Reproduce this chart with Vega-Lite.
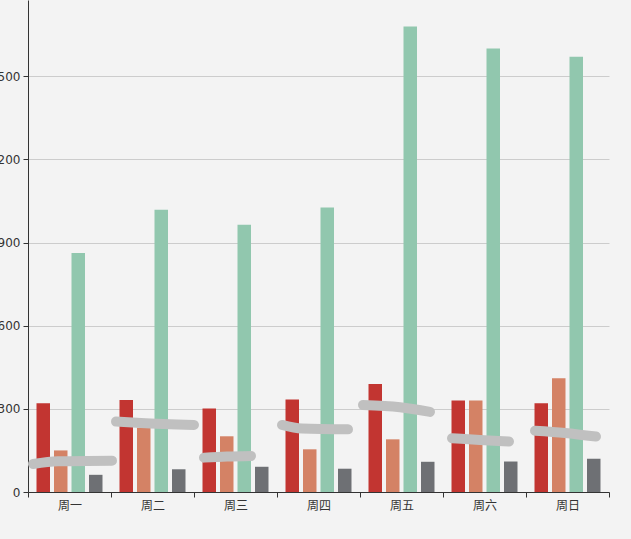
{
  "$schema": "https://vega.github.io/schema/vega-lite/v6.json",
  "width": 581,
  "height": 492,
  "autosize": {"type": "none"},
  "padding": {"left": 28, "top": 0, "right": 22, "bottom": 47},
  "background": "#f3f3f3",
  "config": {"view": {"stroke": null}, "font": "Noto Sans CJK SC"},
  "datasets": {
    "bars": [
      {"day": "周一", "series": "直接访问", "value": 320},
      {"day": "周二", "series": "直接访问", "value": 332},
      {"day": "周三", "series": "直接访问", "value": 301},
      {"day": "周四", "series": "直接访问", "value": 334},
      {"day": "周五", "series": "直接访问", "value": 390},
      {"day": "周六", "series": "直接访问", "value": 330},
      {"day": "周日", "series": "直接访问", "value": 320},
      {"day": "周一", "series": "视频广告", "value": 150},
      {"day": "周二", "series": "视频广告", "value": 232},
      {"day": "周三", "series": "视频广告", "value": 201},
      {"day": "周四", "series": "视频广告", "value": 154},
      {"day": "周五", "series": "视频广告", "value": 190},
      {"day": "周六", "series": "视频广告", "value": 330},
      {"day": "周日", "series": "视频广告", "value": 410},
      {"day": "周一", "series": "搜索引擎", "value": 862},
      {"day": "周二", "series": "搜索引擎", "value": 1018},
      {"day": "周三", "series": "搜索引擎", "value": 964},
      {"day": "周四", "series": "搜索引擎", "value": 1026},
      {"day": "周五", "series": "搜索引擎", "value": 1679},
      {"day": "周六", "series": "搜索引擎", "value": 1600},
      {"day": "周日", "series": "搜索引擎", "value": 1570},
      {"day": "周一", "series": "其他", "value": 62},
      {"day": "周二", "series": "其他", "value": 82},
      {"day": "周三", "series": "其他", "value": 91},
      {"day": "周四", "series": "其他", "value": 84},
      {"day": "周五", "series": "其他", "value": 109},
      {"day": "周六", "series": "其他", "value": 110},
      {"day": "周日", "series": "其他", "value": 120}
    ],
    "line": [
      {"day": "周一", "off": 5, "value": 101},
      {"day": "周一", "off": 30, "value": 111},
      {"day": "周一", "off": 84, "value": 113},
      {"day": "周二", "off": 5, "value": 254},
      {"day": "周二", "off": 30, "value": 249},
      {"day": "周二", "off": 83, "value": 242},
      {"day": "周三", "off": 10, "value": 124},
      {"day": "周三", "off": 33, "value": 128},
      {"day": "周三", "off": 57, "value": 130},
      {"day": "周四", "off": 5, "value": 242},
      {"day": "周四", "off": 25, "value": 229},
      {"day": "周四", "off": 71, "value": 226},
      {"day": "周五", "off": 3, "value": 314},
      {"day": "周五", "off": 40, "value": 306},
      {"day": "周五", "off": 70, "value": 289},
      {"day": "周六", "off": 9, "value": 194},
      {"day": "周六", "off": 37, "value": 188},
      {"day": "周六", "off": 66, "value": 182},
      {"day": "周日", "off": 9, "value": 221},
      {"day": "周日", "off": 39, "value": 213},
      {"day": "周日", "off": 70, "value": 200}
    ]
  },
  "layer": [
    {
      "data": {"name": "bars"},
      "mark": {"type": "bar"},
      "encoding": {
        "x": {
          "field": "day", "type": "nominal",
          "sort": ["周一", "周二", "周三", "周四", "周五", "周六", "周日"],
          "scale": {"paddingInner": 0, "paddingOuter": 0},
          "axis": {
            "title": null, "labelAngle": 0, "tickBand": "extent", "grid": false,
            "domainColor": "#333", "tickColor": "#333", "tickSize": 5,
            "labelColor": "#333", "labelFontSize": 12, "labelPadding": 3
          }
        },
        "xOffset": {
          "field": "series", "type": "nominal",
          "sort": ["直接访问", "视频广告", "搜索引擎", "其他"],
          "scale": {"paddingInner": 0.229, "paddingOuter": 0.486}
        },
        "y": {
          "field": "value", "type": "quantitative",
          "scale": {"domain": [0, 1775], "nice": false},
          "axis": {
            "title": null, "values": [0, 300, 600, 900, 1200, 1500],
            "domainColor": "#333", "tickColor": "#333", "tickSize": 5,
            "labelColor": "#333", "labelFontSize": 12, "labelPadding": 3,
            "labelFont": "DejaVu Sans",
            "gridColor": "#cccccc"
          }
        },
        "color": {
          "field": "series", "type": "nominal",
          "scale": {
            "domain": ["直接访问", "视频广告", "搜索引擎", "其他"],
            "range": ["#c23531", "#d48265", "#91c7ae", "#6e7074"]
          },
          "legend": null
        }
      }
    },
    {
      "data": {"name": "line"},
      "mark": {
        "type": "line", "strokeWidth": 10, "strokeCap": "round", "strokeJoin": "round",
        "interpolate": "monotone", "color": "#c0c0c0"
      },
      "encoding": {
        "x": {"field": "day", "type": "nominal", "sort": ["周一", "周二", "周三", "周四", "周五", "周六", "周日"]},
        "xOffset": {"field": "off", "type": "quantitative", "scale": {"domain": [0, 83], "range": [0, 83], "nice": false, "zero": false}},
        "y": {"field": "value", "type": "quantitative"},
        "detail": {"field": "day"}
      }
    }
  ],
  "resolve": {"scale": {"xOffset": "independent"}}
}
